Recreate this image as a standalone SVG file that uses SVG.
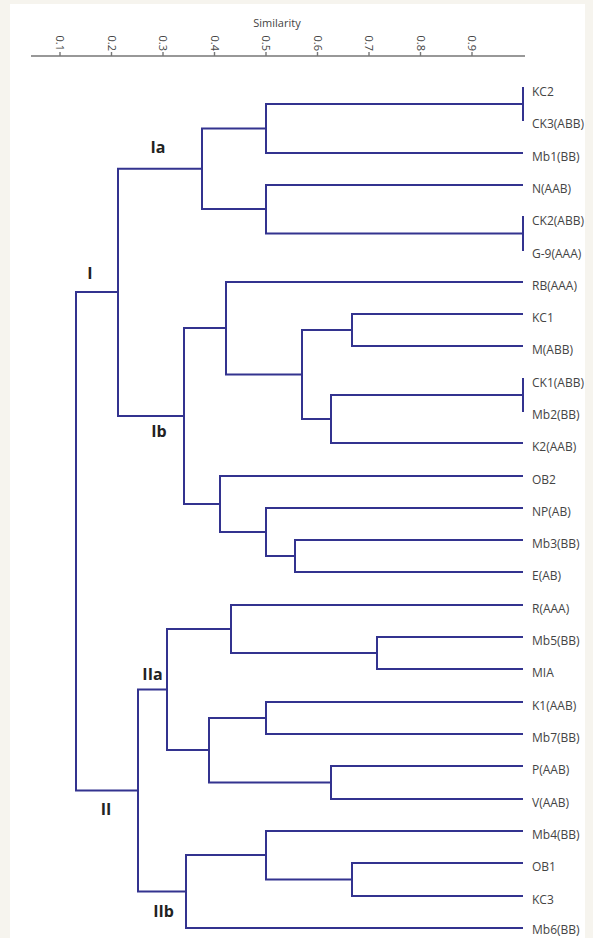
<svg xmlns="http://www.w3.org/2000/svg" width="593" height="938" viewBox="0 0 593 938">
<style>
.br{fill:none;stroke:#33338f;stroke-width:2;stroke-linecap:square}
.ax{fill:none;stroke:#777;stroke-width:1.4}
.tk{font-family:"Open Sans","Liberation Sans",sans-serif;font-size:11px;fill:#444}
.lf{font-family:"Open Sans","Liberation Sans",sans-serif;font-size:12px;fill:#444}
.gp{font-family:"Open Sans","Liberation Sans",sans-serif;font-size:16px;font-weight:bold;fill:#222;text-anchor:middle}
</style>
<rect x="0" y="0" width="593" height="938" fill="#f6f4ee"/>
<rect x="10" y="4" width="575" height="934" fill="#ffffff"/>
<g id="axis">
<text class="tk" x="277" y="27" text-anchor="middle">Similarity</text>
<path class="ax" d="M31 56 H525 M60 52 V56 M111.5 52 V56 M163 52 V56 M214.5 52 V56 M266 52 V56 M317.5 52 V56 M369 52 V56 M420.5 52 V56 M472 52 V56"/>
<text class="tk" transform="translate(60,51) rotate(90)" x="0" y="3.8" text-anchor="end">0.1</text>
<text class="tk" transform="translate(111.5,51) rotate(90)" x="0" y="3.8" text-anchor="end">0.2</text>
<text class="tk" transform="translate(163,51) rotate(90)" x="0" y="3.8" text-anchor="end">0.3</text>
<text class="tk" transform="translate(214.5,51) rotate(90)" x="0" y="3.8" text-anchor="end">0.4</text>
<text class="tk" transform="translate(266,51) rotate(90)" x="0" y="3.8" text-anchor="end">0.5</text>
<text class="tk" transform="translate(317.5,51) rotate(90)" x="0" y="3.8" text-anchor="end">0.6</text>
<text class="tk" transform="translate(369,51) rotate(90)" x="0" y="3.8" text-anchor="end">0.7</text>
<text class="tk" transform="translate(420.5,51) rotate(90)" x="0" y="3.8" text-anchor="end">0.8</text>
<text class="tk" transform="translate(472,51) rotate(90)" x="0" y="3.8" text-anchor="end">0.9</text>
</g>
<g id="connectors">
<path class="br" d="M523 88 V120"/>
<path class="br" d="M523 104 H266 V153 H522"/>
<path class="br" d="M523 217 V250"/>
<path class="br" d="M522 185 H266 V233.5 H523"/>
<path class="br" d="M266 128.5 H202 V209 H266"/>
<path class="br" d="M522 314 H352 V346 H522"/>
<path class="br" d="M523 379 V411"/>
<path class="br" d="M523 395 H331 V443 H522"/>
<path class="br" d="M352 330 H302 V419 H331"/>
<path class="br" d="M522 282 H226 V374.5 H302"/>
<path class="br" d="M522 540 H295 V572 H522"/>
<path class="br" d="M522 508 H266 V556 H295"/>
<path class="br" d="M522 476 H220 V532 H266"/>
<path class="br" d="M226 328 H184 V504 H220"/>
<path class="br" d="M202 168.75 H118 V416 H184"/>
<path class="br" d="M522 637 H377 V669 H522"/>
<path class="br" d="M522 605 H231 V653 H377"/>
<path class="br" d="M522 702 H266 V734 H522"/>
<path class="br" d="M522 766 H331 V799 H522"/>
<path class="br" d="M266 718 H209 V782.5 H331"/>
<path class="br" d="M231 629 H167 V750 H209"/>
<path class="br" d="M522 863 H352 V896 H522"/>
<path class="br" d="M522 831 H266 V879.5 H352"/>
<path class="br" d="M266 855 H186 V928 H522"/>
<path class="br" d="M167 689.5 H138 V891.5 H186"/>
<path class="br" d="M118 292 H76 V790.5 H138"/>
</g>
<g id="group-I"><text class="gp" x="90" y="279">I</text></g>
<g id="group-Ia"><text class="gp" x="158" y="153">Ia</text></g>
<g id="group-Ib"><text class="gp" x="159" y="437">Ib</text></g>
<g id="group-II"><text class="gp" x="106" y="815">II</text></g>
<g id="group-IIa"><text class="gp" x="152.5" y="680">IIa</text></g>
<g id="group-IIb"><text class="gp" x="163.5" y="917">IIb</text></g>
<g id="leaf-KC2"><text class="lf" x="532" y="95.5">KC2</text></g>
<g id="leaf-CK3"><text class="lf" x="532" y="127.5">CK3(ABB)</text></g>
<g id="leaf-Mb1"><text class="lf" x="532" y="160.5">Mb1(BB)</text></g>
<g id="leaf-N"><text class="lf" x="532" y="192.5">N(AAB)</text></g>
<g id="leaf-CK2"><text class="lf" x="532" y="224.5">CK2(ABB)</text></g>
<g id="leaf-G9"><text class="lf" x="532" y="257.5">G-9(AAA)</text></g>
<g id="leaf-RB"><text class="lf" x="532" y="289.5">RB(AAA)</text></g>
<g id="leaf-KC1"><text class="lf" x="532" y="321.5">KC1</text></g>
<g id="leaf-M"><text class="lf" x="532" y="353.5">M(ABB)</text></g>
<g id="leaf-CK1"><text class="lf" x="532" y="386.5">CK1(ABB)</text></g>
<g id="leaf-Mb2"><text class="lf" x="532" y="418.5">Mb2(BB)</text></g>
<g id="leaf-K2"><text class="lf" x="532" y="450.5">K2(AAB)</text></g>
<g id="leaf-OB2"><text class="lf" x="532" y="483.5">OB2</text></g>
<g id="leaf-NP"><text class="lf" x="532" y="515.5">NP(AB)</text></g>
<g id="leaf-Mb3"><text class="lf" x="532" y="547.5">Mb3(BB)</text></g>
<g id="leaf-E"><text class="lf" x="532" y="579.5">E(AB)</text></g>
<g id="leaf-R"><text class="lf" x="532" y="612.5">R(AAA)</text></g>
<g id="leaf-Mb5"><text class="lf" x="532" y="644.5">Mb5(BB)</text></g>
<g id="leaf-MIA"><text class="lf" x="532" y="676.5">MIA</text></g>
<g id="leaf-K1"><text class="lf" x="532" y="709.5">K1(AAB)</text></g>
<g id="leaf-Mb7"><text class="lf" x="532" y="741.5">Mb7(BB)</text></g>
<g id="leaf-P"><text class="lf" x="532" y="773.5">P(AAB)</text></g>
<g id="leaf-V"><text class="lf" x="532" y="806.5">V(AAB)</text></g>
<g id="leaf-Mb4"><text class="lf" x="532" y="838.5">Mb4(BB)</text></g>
<g id="leaf-OB1"><text class="lf" x="532" y="870.5">OB1</text></g>
<g id="leaf-KC3"><text class="lf" x="532" y="903.5">KC3</text></g>
<g id="leaf-Mb6"><text class="lf" x="532" y="934">Mb6(BB)</text></g>
</svg>
